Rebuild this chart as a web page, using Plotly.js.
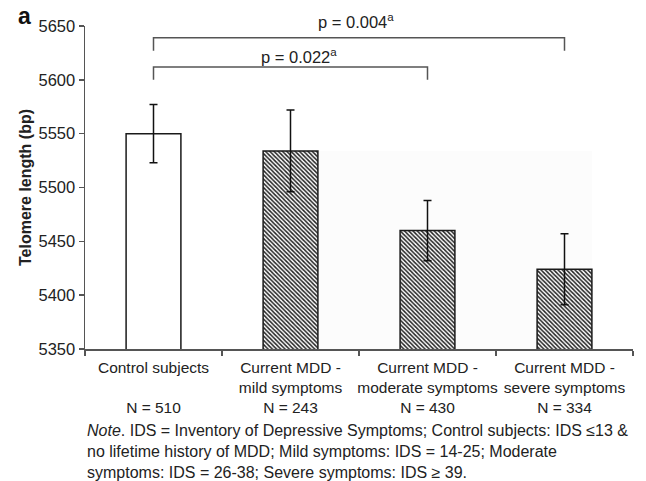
<!DOCTYPE html>
<html>
<head>
<meta charset="utf-8">
<script src="https://cdn.plot.ly/plotly-3.0.1.min.js"></script>
<style>html,body{margin:0;padding:0;background:#fff;}#chart{width:646px;height:481px;}</style>
</head>
<body>
<div id="chart"></div>
<script>
const groups = ["Control subjects", "Current MDD -<br>mild symptoms", "Current MDD -<br>moderate symptoms", "Current MDD -<br>severe symptoms"];
const nSubjects = [510, 243, 430, 334];
const meanTL = [5550, 5534, 5460, 5424];
const errTL = [27, 38, 28, 33];
const patterns = ["", "\\", "\\", "\\"];
const pLabels = ["p = 0.022<sup>a</sup>", "p = 0.004<sup>a</sup>"];

const FONT = "Liberation Sans, Arial, Helvetica, sans-serif";
const tickLabels = groups.map((g, i) => g + (i === 0 ? "<br>&nbsp;" : "") + "<br>N = " + nSubjects[i]);

const trace = {
  type: "bar",
  x: tickLabels,
  y: meanTL,
  width: 0.4,
  marker: {
    color: "#ffffff",
    line: {color: "#1a1a1a", width: 1.5},
    pattern: {shape: patterns, fgcolor: "#222222", bgcolor: "#ffffff", size: 3, solidity: 0.5}
  },
  error_y: {type: "data", array: errTL, visible: true, color: "#111", thickness: 1.5, width: 4},
  hoverinfo: "none"
};

const bracketColor = "#555";
const shapes = [
  {type: "rect", xref: "x", yref: "y", x0: 1.2, x1: 3.2, y0: 5350, y1: meanTL[1], fillcolor: "#fcfcfc", line: {width: 0}, layer: "below"},
  {type: "path", xref: "x", yref: "y", path: "M 0 5600 L 0 5612 L 2 5612 L 2 5600", line: {color: bracketColor, width: 1.5}},
  {type: "path", xref: "x", yref: "y", path: "M 0 5627 L 0 5639 L 3 5639 L 3 5627", line: {color: bracketColor, width: 1.5}}
];

const annotations = [
  {xref: "x", yref: "y", x: 1, y: 5612, text: pLabels[0], showarrow: false, xshift: 8, yshift: 11, yanchor: "middle", font: {family: FONT, size: 16.5, color: "#222"}},
  {xref: "x", yref: "y", x: 1.5, y: 5639, text: pLabels[1], showarrow: false, xshift: -3, yshift: 17, yanchor: "middle", font: {family: FONT, size: 16.5, color: "#222"}},
  {xref: "paper", yref: "paper", x: -0.126, y: 1.03, xanchor: "left", yanchor: "middle", text: "<b>a</b>", showarrow: false, font: {family: FONT, size: 23, color: "#111"}},
  {xref: "paper", yref: "paper", x: 0, y: -0.221, xanchor: "left", yanchor: "top", align: "left", showarrow: false,
   text: "<i>Note</i>. IDS = Inventory of Depressive Symptoms; Control subjects: IDS \u226413 &amp;<br>no lifetime history of MDD; Mild symptoms: IDS = 14-25; Moderate<br>symptoms: IDS = 26-38; Severe symptoms: IDS \u2265 39.",
   font: {family: FONT, size: 16, color: "#222"}}
];

const layout = {
  width: 646, height: 481,
  margin: {l: 85, r: 13, t: 26, b: 132, pad: 0},
  paper_bgcolor: "#fff", plot_bgcolor: "#fff",
  showlegend: false,
  font: {family: FONT, size: 16.5, color: "#222"},
  xaxis: {
    type: "category", range: [-0.5, 3.5], fixedrange: true,
    showline: true, linecolor: "#555", linewidth: 1.5,
    ticks: "outside", tickson: "boundaries", ticklen: 5, tickcolor: "#555", tickwidth: 1.5,
    showgrid: false, zeroline: false, automargin: false, tickangle: 0, ticklabelstandoff: 4,
    tickfont: {family: FONT, size: 15.5, color: "#222"}
  },
  yaxis: {
    range: [5350, 5650], dtick: 50, tick0: 5350, fixedrange: true,
    showline: true, linecolor: "#555", linewidth: 1.5,
    ticks: "outside", ticklen: 5, tickcolor: "#555", tickwidth: 1.5,
    showgrid: false, zeroline: false, automargin: false,
    tickfont: {family: FONT, size: 16.5, color: "#222"},
    title: {text: "<b>Telomere length (bp)</b>", font: {family: FONT, size: 16, color: "#222"}, standoff: 3}
  },
  shapes: shapes,
  annotations: annotations
};

Plotly.newPlot("chart", [trace], layout, {displayModeBar: false, staticPlot: true});
</script>
</body>
</html>
